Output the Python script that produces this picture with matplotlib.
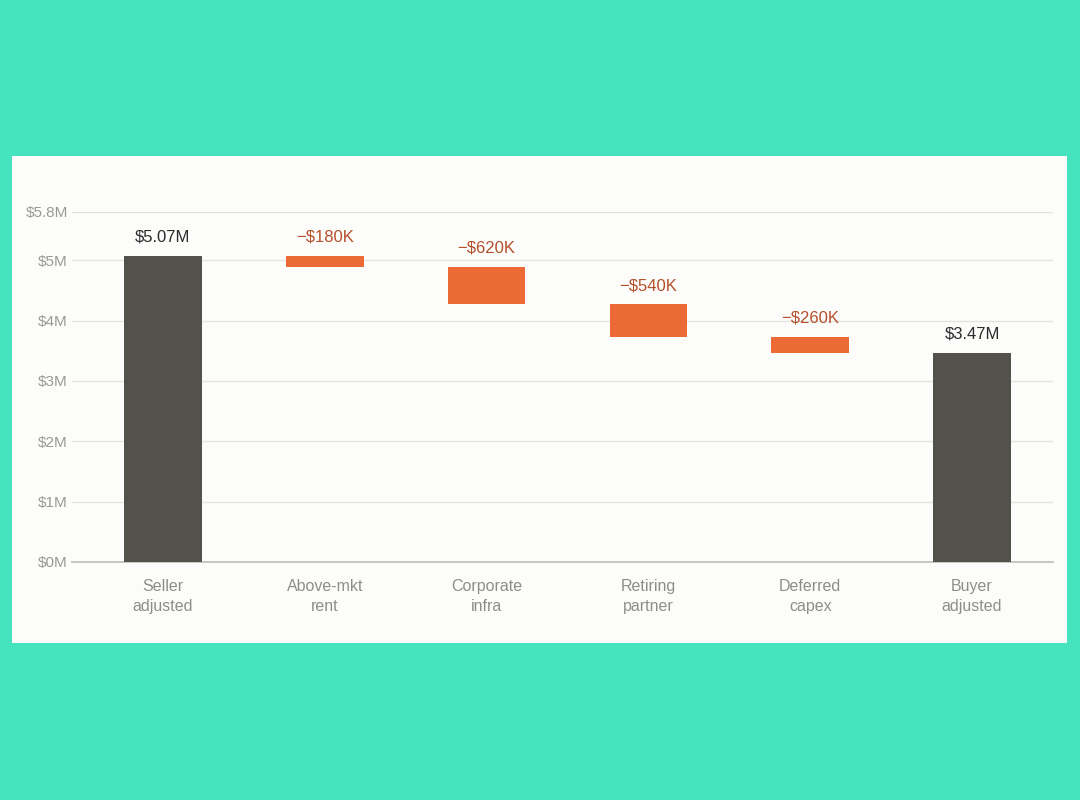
import matplotlib.pyplot as plt
from matplotlib.patches import Rectangle

plt.rcParams['font.family'] = ['Liberation Sans', 'DejaVu Sans']

categories = ["Seller\nadjusted", "Above-mkt\nrent", "Corporate\ninfra",
              "Retiring\npartner", "Deferred\ncapex", "Buyer\nadjusted"]
changes = [5.07, -0.18, -0.62, -0.54, -0.26, 3.47]   # $M
is_total = [True, False, False, False, False, True]
labels = ["$5.07M", "\u2212$180K", "\u2212$620K", "\u2212$540K", "\u2212$260K", "$3.47M"]
yticks = [0, 1, 2, 3, 4, 5, 5.8]
ytick_labels = ["$0M", "$1M", "$2M", "$3M", "$4M", "$5M", "$5.8M"]

# waterfall bottoms / heights
bottoms, heights = [], []
running = 0.0
for v, tot in zip(changes, is_total):
    if tot:
        bottoms.append(0)
        heights.append(v)
        running = v
    else:
        running += v
        bottoms.append(running)
        heights.append(-v)

dark = "#53514c"
orange = "#ec6a35"

fig = plt.figure(figsize=(10.8, 8), dpi=100)
fig.patch.set_facecolor("#45e3be")
card = Rectangle((12 / 1080, 1 - 643 / 800), 1055 / 1080, 487 / 800,
                 transform=fig.transFigure, facecolor="#fcfcfb",
                 edgecolor="none", zorder=-1)
fig.add_artist(card)

ax = fig.add_axes([72 / 1080, 1 - 562 / 800, 981 / 1080, 350 / 800])
ax.set_facecolor("none")

x = list(range(len(categories)))
colors = [dark if t else orange for t in is_total]
ax.bar(x, heights, bottom=bottoms, width=0.48, color=colors, zorder=3)

for i in x:
    top = bottoms[i] + heights[i]
    ax.annotate(labels[i], (i, top), xytext=(0, 8), textcoords="offset points",
                ha="center", va="bottom", fontsize=12,
                color="#2b2b2b" if is_total[i] else "#b5502a")

ax.set_xlim(-0.562, 5.5)
ax.set_ylim(0, 5.8)
ax.set_yticks(yticks)
ax.set_yticklabels(ytick_labels)
ax.set_xticks(x)
ax.set_xticklabels(categories, linespacing=1.36)

ax.grid(axis="y", color="#e4e4df", linewidth=1, zorder=0)
for s in ["top", "right", "left"]:
    ax.spines[s].set_visible(False)
ax.spines["bottom"].set_color("#bdbdb6")
ax.spines["bottom"].set_linewidth(1.2)
ax.tick_params(axis="y", length=0, pad=3, labelsize=11, labelcolor="#9a9a95")
ax.tick_params(axis="x", length=0, pad=12.5, labelsize=11.5, labelcolor="#8e8e89")

fig.savefig("out.png", dpi=100, facecolor=fig.get_facecolor())
